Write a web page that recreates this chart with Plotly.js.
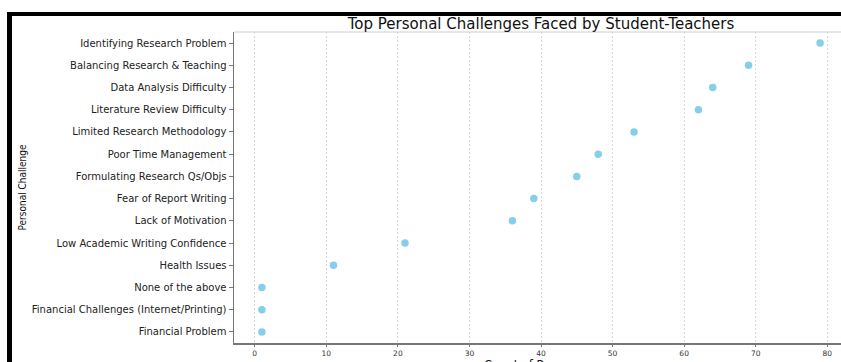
<!DOCTYPE html>
<html>
<head>
<meta charset="utf-8">
<script src="https://cdn.plot.ly/plotly-3.0.1.min.js"></script>
<style>
html,body{margin:0;padding:0;overflow:hidden;background:#fff;width:841px;height:362px;}
#frame{position:absolute;left:7px;top:12px;width:1000px;height:500px;border-left:5px solid #000;border-top:4px solid #000;}
#chart{position:absolute;left:12px;top:16px;width:886px;height:407px;}
</style>
</head>
<body>
<div id="frame"></div>
<div id="chart"></div>
<script>
// Categories listed top to bottom
const challenges = [
  "Identifying Research Problem",
  "Balancing Research & Teaching",
  "Data Analysis Difficulty",
  "Literature Review Difficulty",
  "Limited Research Methodology",
  "Poor Time Management",
  "Formulating Research Qs/Objs",
  "Fear of Report Writing",
  "Lack of Motivation",
  "Low Academic Writing Confidence",
  "Health Issues",
  "None of the above",
  "Financial Challenges (Internet/Printing)",
  "Financial Problem"
];
const counts = [79, 69, 64, 62, 53, 48, 45, 39, 36, 21, 11, 1, 1, 1];
const xTicks = [0, 10, 20, 30, 40, 50, 60, 70, 80];
const xTitle = "Count of Responses";

const font = "DejaVu Sans, sans-serif";

const trace = {
  type: "scatter",
  mode: "markers",
  x: counts,
  y: challenges,
  marker: {color: "#87CEEB", size: 7.5, line: {width: 0}},
  hoverinfo: "x+y",
  showlegend: false
};

const layout = {
  width: 886,
  height: 407,
  margin: {l: 222, r: 50, t: 16, b: 80},
  paper_bgcolor: "#fff",
  plot_bgcolor: "#fff",
  font: {family: font, color: "#222"},
  title: {
    text: "Top Personal Challenges Faced by Student-Teachers",
    font: {family: font, size: 15, color: "#111"},
    x: 0.5, xref: "paper", xanchor: "center",
    y: 1 - 8/407, yref: "container", yanchor: "middle"
  },
  xaxis: {
    range: [-2.9, 82.9],
    tickmode: "array",
    tickvals: xTicks,
    ticktext: xTicks.map(String),
    tickfont: {family: font, size: 7.5, color: "#333"},
    ticks: "outside", ticklen: 2.5, tickcolor: "#777", tickwidth: 1,
    showgrid: true, gridcolor: "#d8d8d8", griddash: "2px,2px", gridwidth: 1,
    zeroline: false,
    showline: true, linecolor: "#777", linewidth: 1.5,
    fixedrange: true
  },
  yaxis: {
    type: "category",
    categoryorder: "array",
    categoryarray: challenges,
    range: [13.5, -0.5],
    tickfont: {family: font, size: 10, color: "#222"},
    ticks: "outside", ticklen: 4, tickcolor: "#777", tickwidth: 1,
    showgrid: false, zeroline: false,
    showline: true, linecolor: "#777", linewidth: 1.5,
    title: {text: "Personal Challenge", font: {family: "Liberation Sans Narrow, DejaVu Sans Condensed, Liberation Sans, sans-serif", size: 10, color: "#111"}, standoff: 3},
    fixedrange: true
  },
  annotations: [
    {text: xTitle, xref: "paper", yref: "paper", x: 0.5, y: 0, xanchor: "center", yanchor: "top",
     yshift: -14, borderpad: 0, showarrow: false, font: {family: font, size: 11.5, color: "#111"}}
  ],
  shapes: [
    {type: "line", xref: "paper", yref: "paper", x0: 0, x1: 1, y0: 1, y1: 1, line: {color: "#cfcfcf", width: 1}}
  ]
};

Plotly.newPlot("chart", [trace], layout, {displayModeBar: false, staticPlot: true});
</script>
</body>
</html>
